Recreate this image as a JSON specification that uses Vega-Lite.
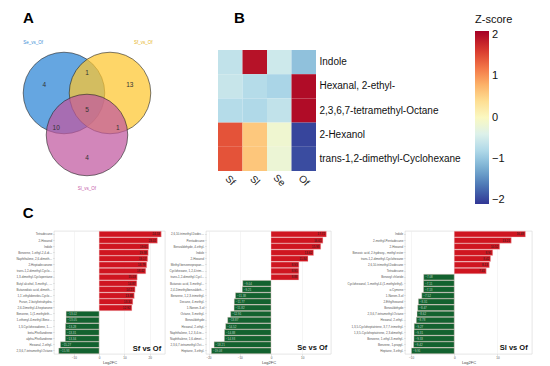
{
  "$schema": "https://vega.github.io/schema/vega-lite/v6.json",
  "padding": {"left": 13, "top": 10, "right": 0, "bottom": 0},
  "spacing": 0,
  "config": {
    "font": "Liberation Sans",
    "view": {"stroke": null},
    "title": {"fontSize": 15, "fontWeight": "bold", "anchor": "start", "color": "#000", "frame": "group"}
  },
  "vconcat": [
    {
      "hconcat": [
        {
          "title": {"text": "A", "dx": -31, "offset": 14},
          "width": 131,
          "height": 148,
          "layer": [
            {
              "data": {"values": [
                {"set": "Se_vs_Of", "cx": -0.5, "cy": 0},
                {"set": "Sf_vs_Of", "cx": 0.5, "cy": 0},
                {"set": "Sl_vs_Of", "cx": 0, "cy": -0.913}
              ]},
              "mark": {"type": "point", "shape": "circle", "filled": true, "size": 6648, "fillOpacity": 0.72, "stroke": "#222", "strokeWidth": 0.6, "strokeOpacity": 1},
              "encoding": {
                "x": {"field": "cx", "type": "quantitative", "scale": {"domain": [-0.717, 2.13], "nice": false, "zero": false}, "axis": null},
                "y": {"field": "cy", "type": "quantitative", "scale": {"domain": [-2.283, 0.935], "nice": false, "zero": false}, "axis": null},
                "color": {"field": "set", "type": "nominal", "scale": {"domain": ["Se_vs_Of", "Sf_vs_Of", "Sl_vs_Of"], "range": ["#2a84d6", "#fec62e", "#c0579f"]}, "legend": null}
              }
            },
            {
              "data": {"values": [
                {"n": "4", "x": -0.93, "y": 0.17},
                {"n": "1", "x": 0, "y": 0.43},
                {"n": "13", "x": 0.93, "y": 0.17},
                {"n": "5", "x": 0, "y": -0.37},
                {"n": "10", "x": -0.67, "y": -0.76},
                {"n": "1", "x": 0.67, "y": -0.76},
                {"n": "4", "x": 0, "y": -1.41}
              ]},
              "mark": {"type": "text", "fontSize": 6.5, "color": "#333"},
              "encoding": {
                "x": {"field": "x", "type": "quantitative"},
                "y": {"field": "y", "type": "quantitative"},
                "text": {"field": "n"}
              }
            },
            {
              "data": {"values": [
                {"t": "Se_vs_Of", "x": -1.17, "y": 1.09, "c": "#3d8fd6"},
                {"t": "Sf_vs_Of", "x": 1.22, "y": 1.09, "c": "#e6b321"},
                {"t": "Sl_vs_Of", "x": 0, "y": -2.09, "c": "#c55aa8"}
              ]},
              "mark": {"type": "text", "fontSize": 4.5},
              "encoding": {
                "x": {"field": "x", "type": "quantitative"},
                "y": {"field": "y", "type": "quantitative"},
                "text": {"field": "t"},
                "color": {"field": "c", "type": "nominal", "scale": null}
              }
            }
          ]
        },
        {
          "title": {"text": "B", "dx": 16, "offset": -12},
          "width": 98,
          "height": 121,
          "data": {"values": [
            {"compound": "Indole", "group": "Sf", "z": -0.65},
            {"compound": "Indole", "group": "Sl", "z": 1.95},
            {"compound": "Indole", "group": "Se", "z": -0.55},
            {"compound": "Indole", "group": "Of", "z": -1.05},
            {"compound": "Hexanal, 2-ethyl-", "group": "Sf", "z": -0.6},
            {"compound": "Hexanal, 2-ethyl-", "group": "Sl", "z": -0.75},
            {"compound": "Hexanal, 2-ethyl-", "group": "Se", "z": -0.85},
            {"compound": "Hexanal, 2-ethyl-", "group": "Of", "z": 2.0},
            {"compound": "2,3,6,7-tetramethyl-Octane", "group": "Sf", "z": -0.75},
            {"compound": "2,3,6,7-tetramethyl-Octane", "group": "Sl", "z": -0.8},
            {"compound": "2,3,6,7-tetramethyl-Octane", "group": "Se", "z": -0.65},
            {"compound": "2,3,6,7-tetramethyl-Octane", "group": "Of", "z": 2.0},
            {"compound": "2-Hexanol", "group": "Sf", "z": 1.45},
            {"compound": "2-Hexanol", "group": "Sl", "z": 0.6},
            {"compound": "2-Hexanol", "group": "Se", "z": -0.15},
            {"compound": "2-Hexanol", "group": "Of", "z": -2.0},
            {"compound": "trans-1,2-dimethyl-Cyclohexane", "group": "Sf", "z": 1.45},
            {"compound": "trans-1,2-dimethyl-Cyclohexane", "group": "Sl", "z": 0.62},
            {"compound": "trans-1,2-dimethyl-Cyclohexane", "group": "Se", "z": -0.2},
            {"compound": "trans-1,2-dimethyl-Cyclohexane", "group": "Of", "z": -1.95}
          ]},
          "mark": {"type": "rect"},
          "encoding": {
            "x": {"field": "group", "type": "nominal", "sort": null, "scale": {"paddingInner": 0, "paddingOuter": 0},
                  "axis": {"title": null, "orient": "bottom", "domain": false, "ticks": false, "labelAngle": 45, "labelAlign": "center", "labelBaseline": "middle", "labelPadding": 9, "labelFontSize": 10, "labelColor": "#222"}},
            "y": {"field": "compound", "type": "nominal", "sort": null, "scale": {"paddingInner": 0, "paddingOuter": 0},
                  "axis": {"title": null, "orient": "right", "domain": false, "ticks": false, "labelPadding": 3, "labelFontSize": 10, "labelColor": "#111", "labelLimit": 300}},
            "color": {"field": "z", "type": "quantitative",
                      "scale": {"scheme": "redyellowblue", "reverse": true, "domain": [-2.1, 2.1]},
                      "legend": {"orient": "none", "legendX": 257, "legendY": -36, "title": "Z-score", "titleFontSize": 11, "titleFontWeight": "normal", "titleColor": "#111", "titlePadding": 6,
                                 "gradientLength": 173, "gradientThickness": 14, "values": [-2, -1, 0, 1, 2], "labelFontSize": 11, "labelColor": "#111", "labelOffset": 3, "gradientStrokeWidth": 0}}
          }
        }
      ],
      "spacing": 33
    },
    {
      "title": {"text": "C", "dx": 9, "offset": 10, "frame": "bounds"},
      "hconcat": [
        {
          "width": 111,
          "height": 123,
          "view": {"stroke": "#d4d4d4", "strokeWidth": 0.6},
          "data": {"values": [
            {"compound": "Tetradecane", "v": 24.53},
            {"compound": "2-Hexanol", "v": 23.02},
            {"compound": "Indole", "v": 19.61},
            {"compound": "Benzene, 1-ethyl-2,4-dimethyl-", "v": 19.38},
            {"compound": "Naphthalene, 2,6-dimethyl-", "v": 19.17},
            {"compound": "2-Heptadecanone", "v": 18.79},
            {"compound": "trans-1,2-dimethyl-Cyclohexane", "v": 18.42},
            {"compound": "1,3-dimethyl-Cyclopentane", "v": 15.03},
            {"compound": "Butyl alcohol, 3-methyl-, ace", "v": 14.87},
            {"compound": "Butanedioic acid, dimethyl ester", "v": 14.21},
            {"compound": "1,1'-ethylidenebis-Cyclopentane", "v": 13.88},
            {"compound": "Furan, 2-butyltetrahydro-", "v": 13.31},
            {"compound": "2,6-Dimethyl-4-heptanone", "v": 12.92},
            {"compound": "Benzene, 1-(1-methylethyl)-", "v": -13.02},
            {"compound": "1-ethenyl-4-methyl-Benzene", "v": -13.05},
            {"compound": "1,3-Cyclohexadiene, 1-methyl-", "v": -13.28},
            {"compound": "beta-Phellandrene", "v": -13.31},
            {"compound": "alpha-Phellandrene", "v": -13.34},
            {"compound": "Hexanal, 2-ethyl-", "v": -15.27},
            {"compound": "2,3,6,7-tetramethyl-Octane", "v": -15.93}
          ]},
          "encoding": {
            "y": {"field": "compound", "type": "nominal", "sort": null, "scale": {"paddingInner": 0.07, "paddingOuter": 0.05},
                  "axis": {"title": null, "labelFontSize": 3, "labelColor": "#555", "tickSize": 1.2, "tickColor": "#aaa", "tickWidth": 0.4, "labelPadding": 1, "domain": false, "labelLimit": 36, "minExtent": 40, "maxExtent": 40}},
            "x": {"field": "v", "type": "quantitative", "scale": {"domain": [-17.8, 26], "nice": false, "zero": false},
                  "axis": {"values": [-10, 0, 10, 20], "title": "Log2FC", "titleFontSize": 4, "titleFontWeight": "normal", "titleColor": "#444", "titlePadding": 1.5, "labelFontSize": 3, "labelColor": "#555", "tickSize": 1.2, "tickColor": "#aaa", "tickWidth": 0.4, "labelPadding": 1, "domain": false, "gridColor": "#ebebeb", "gridWidth": 0.5}}
          },
          "layer": [
            {"mark": {"type": "bar", "stroke": "#f3d0d0", "strokeWidth": 0.4},
             "encoding": {"color": {"condition": {"test": "datum.v > 0", "value": "#cf1520"}, "value": "#13622f"}}},
            {"transform": [{"filter": "datum.v > 0"}],
             "mark": {"type": "text", "align": "right", "dx": -1.5, "fontSize": 3, "color": "#222"},
             "encoding": {"text": {"field": "v", "format": ".2f"}}},
            {"transform": [{"filter": "datum.v < 0"}],
             "mark": {"type": "text", "align": "left", "dx": 1.5, "fontSize": 3, "color": "#bcd3c3"},
             "encoding": {"text": {"field": "v", "format": ".2f"}}},
            {"data": {"values": [{"t": "Sf vs Of", "x": 24.5, "c": "2,3,6,7-tetramethyl-Octane"}]},
             "mark": {"type": "text", "align": "right", "fontSize": 7.5, "fontWeight": "bold", "color": "#111", "dy": -2},
             "encoding": {"x": {"field": "x", "type": "quantitative"}, "y": {"field": "c", "type": "nominal", "sort": null}, "text": {"field": "t"}}}
          ]
        },
        {
          "width": 125,
          "height": 123,
          "view": {"stroke": "#d4d4d4", "strokeWidth": 0.6},
          "data": {"values": [
            {"compound": "2,6,10-trimethyl-Dodecane", "v": 17.72},
            {"compound": "Pentadecane", "v": 16.61},
            {"compound": "Benzaldehyde, 4-ethyl-", "v": 15.93},
            {"compound": "Indole", "v": 13.62},
            {"compound": "2-Hexanol", "v": 11.84},
            {"compound": "Methyl benzenepropanoate", "v": 8.93},
            {"compound": "Cyclohexane, 1,2,4-trimethyl-", "v": 8.91},
            {"compound": "trans-1,2-dimethyl-Cyclohexane", "v": 8.88},
            {"compound": "Butanoic acid, 3-methyl-, ester", "v": -9.04},
            {"compound": "2,4-Dimethylbenzaldehyde", "v": -9.21},
            {"compound": "Benzene, 1,2,3-trimethyl-", "v": -11.38},
            {"compound": "Decane, 4-methyl-", "v": -11.77},
            {"compound": "1-Nonen-3-ol", "v": -11.82},
            {"compound": "Octane, 3-methyl-", "v": -12.91},
            {"compound": "Benzaldehyde", "v": -13.87},
            {"compound": "Hexanal, 2-ethyl-", "v": -14.52},
            {"compound": "Naphthalene, 1,2,3,4-tetrahydro-", "v": -14.88},
            {"compound": "Naphthalene, 1,6-dimethyl-", "v": -14.93},
            {"compound": "2,3,6,7-tetramethyl-Octane", "v": -18.21},
            {"compound": "Heptane, 3-ethyl-", "v": -19.08}
          ]},
          "encoding": {
            "y": {"field": "compound", "type": "nominal", "sort": null, "scale": {"paddingInner": 0.07, "paddingOuter": 0.05},
                  "axis": {"title": null, "labelFontSize": 3, "labelColor": "#555", "tickSize": 1.2, "tickColor": "#aaa", "tickWidth": 0.4, "labelPadding": 1, "domain": false, "labelLimit": 35, "minExtent": 39, "maxExtent": 39}},
            "x": {"field": "v", "type": "quantitative", "scale": {"domain": [-20.8, 19.2], "nice": false, "zero": false},
                  "axis": {"values": [-20, -10, 0, 10], "title": "Log2FC", "titleFontSize": 4, "titleFontWeight": "normal", "titleColor": "#444", "titlePadding": 1.5, "labelFontSize": 3, "labelColor": "#555", "tickSize": 1.2, "tickColor": "#aaa", "tickWidth": 0.4, "labelPadding": 1, "domain": false, "gridColor": "#ebebeb", "gridWidth": 0.5}}
          },
          "layer": [
            {"mark": {"type": "bar", "stroke": "#f3d0d0", "strokeWidth": 0.4},
             "encoding": {"color": {"condition": {"test": "datum.v > 0", "value": "#cf1520"}, "value": "#13622f"}}},
            {"transform": [{"filter": "datum.v > 0"}],
             "mark": {"type": "text", "align": "right", "dx": -1.5, "fontSize": 3, "color": "#222"},
             "encoding": {"text": {"field": "v", "format": ".2f"}}},
            {"transform": [{"filter": "datum.v < 0"}],
             "mark": {"type": "text", "align": "left", "dx": 1.5, "fontSize": 3, "color": "#bcd3c3"},
             "encoding": {"text": {"field": "v", "format": ".2f"}}},
            {"data": {"values": [{"t": "Se vs Of", "x": 18, "c": "Heptane, 3-ethyl-"}]},
             "mark": {"type": "text", "align": "right", "fontSize": 7.5, "fontWeight": "bold", "color": "#111", "dy": -3},
             "encoding": {"x": {"field": "x", "type": "quantitative"}, "y": {"field": "c", "type": "nominal", "sort": null}, "text": {"field": "t"}}}
          ]
        },
        {
          "width": 127,
          "height": 123,
          "view": {"stroke": "#d4d4d4", "strokeWidth": 0.6},
          "data": {"values": [
            {"compound": "Indole", "v": 16.48},
            {"compound": "2-methyl-Pentadecane", "v": 13.21},
            {"compound": "2-Hexanol", "v": 10.52},
            {"compound": "Benzoic acid, 2-hydroxy-, methyl ester", "v": 8.91},
            {"compound": "trans-1,2-dimethyl-Cyclohexane", "v": 8.42},
            {"compound": "2,6,10-trimethyl-Dodecane", "v": 8.13},
            {"compound": "Tetradecane", "v": 7.41},
            {"compound": "Benzoyl chloride", "v": -7.08},
            {"compound": "Cyclohexanol, 1-methyl-4-(1-methylethyl)-", "v": -7.11},
            {"compound": "o-Cymene", "v": -7.13},
            {"compound": "1-Nonen-3-ol", "v": -7.52},
            {"compound": "2-Ethylhexanol", "v": -8.31},
            {"compound": "Benzaldehyde", "v": -8.47},
            {"compound": "2,3,6,7-tetramethyl-Octane", "v": -8.62},
            {"compound": "Hexanal, 2-ethyl-", "v": -8.78},
            {"compound": "1,3,5-Cycloheptatriene, 3,7,7-trimethyl-", "v": -9.27},
            {"compound": "1,3,5-Cycloheptatriene, 2,3-dimethyl-", "v": -9.31},
            {"compound": "Benzene, 1-ethyl-3-methyl-", "v": -9.33},
            {"compound": "Benzene, 1-propyl-", "v": -9.42},
            {"compound": "Heptane, 3-ethyl-", "v": -9.91}
          ]},
          "encoding": {
            "y": {"field": "compound", "type": "nominal", "sort": null, "scale": {"paddingInner": 0.07, "paddingOuter": 0.05},
                  "axis": {"title": null, "labelFontSize": 3, "labelColor": "#555", "tickSize": 1.2, "tickColor": "#aaa", "tickWidth": 0.4, "labelPadding": 1, "domain": false, "labelLimit": 60, "minExtent": 72, "maxExtent": 72}},
            "x": {"field": "v", "type": "quantitative", "scale": {"domain": [-11.4, 18], "nice": false, "zero": false},
                  "axis": {"values": [-10, 0, 10], "title": "Log2FC", "titleFontSize": 4, "titleFontWeight": "normal", "titleColor": "#444", "titlePadding": 1.5, "labelFontSize": 3, "labelColor": "#555", "tickSize": 1.2, "tickColor": "#aaa", "tickWidth": 0.4, "labelPadding": 1, "domain": false, "gridColor": "#ebebeb", "gridWidth": 0.5}}
          },
          "layer": [
            {"mark": {"type": "bar", "stroke": "#f3d0d0", "strokeWidth": 0.4},
             "encoding": {"color": {"condition": {"test": "datum.v > 0", "value": "#cf1520"}, "value": "#13622f"}}},
            {"transform": [{"filter": "datum.v > 0"}],
             "mark": {"type": "text", "align": "right", "dx": -1.5, "fontSize": 3, "color": "#222"},
             "encoding": {"text": {"field": "v", "format": ".2f"}}},
            {"transform": [{"filter": "datum.v < 0"}],
             "mark": {"type": "text", "align": "left", "dx": 1.5, "fontSize": 3, "color": "#bcd3c3"},
             "encoding": {"text": {"field": "v", "format": ".2f"}}},
            {"data": {"values": [{"t": "Sl vs Of", "x": 17, "c": "Heptane, 3-ethyl-"}]},
             "mark": {"type": "text", "align": "right", "fontSize": 7.5, "fontWeight": "bold", "color": "#111", "dy": -3},
             "encoding": {"x": {"field": "x", "type": "quantitative"}, "y": {"field": "c", "type": "nominal", "sort": null}, "text": {"field": "t"}}}
          ]
        }
      ],
      "spacing": 0
    }
  ]
}
